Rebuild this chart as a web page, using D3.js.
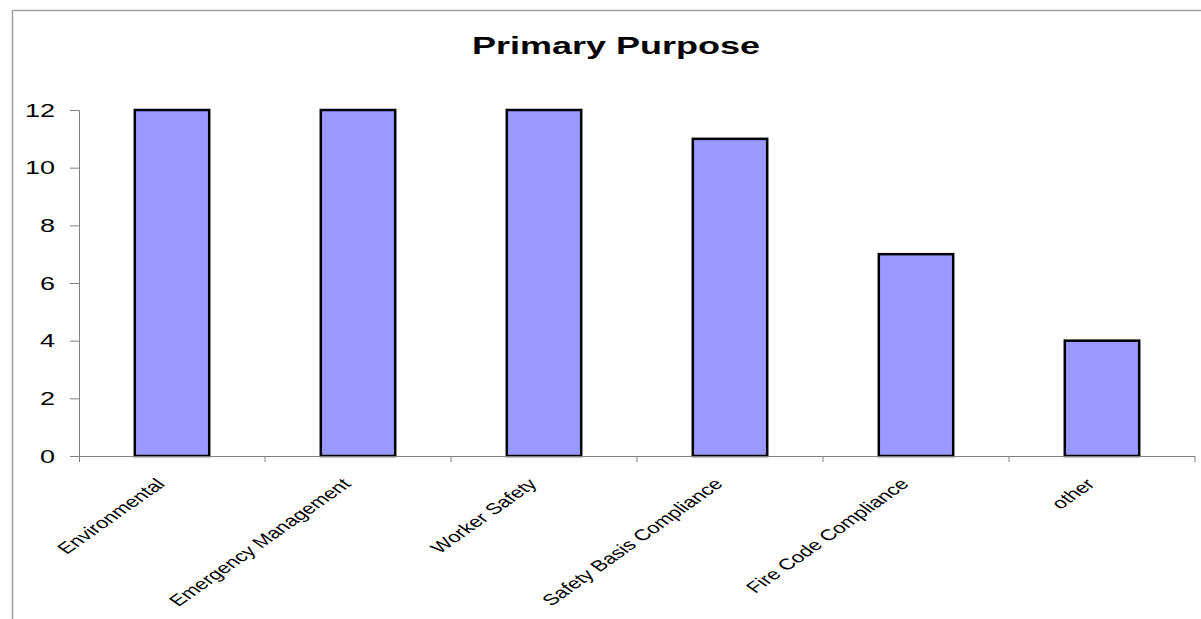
<!DOCTYPE html>
<html>
<head>
<meta charset="utf-8">
<script src="https://cdn.jsdelivr.net/npm/d3@7"></script>
<style>
  body { margin: 0; background: #fff; }
  text { font-family: "Liberation Sans", Arial, sans-serif; }
</style>
</head>
<body>
<svg id="chart" width="1201" height="619"></svg>
<script>
// chart data
var categories = ["Environmental", "Emergency Management", "Worker Safety",
                  "Safety Basis Compliance", "Fire Code Compliance", "other"];
var counts = [12, 12, 12, 11, 7, 4];
var yTicks = [0, 2, 4, 6, 8, 10, 12];

// the source image is stretched sideways, so text gets a horizontal scale
var stretch = 1.42;

var svg = d3.select('#chart');
var margin = {left: 79, right: 6, top: 110, bottom: 163};
var width = 1201 - margin.left - margin.right,
    height = 619 - margin.top - margin.bottom;

// outer frame (only top and left edges show)
svg.append('line').attr('x1', 12).attr('x2', 1201).attr('y1', 10.5).attr('y2', 10.5)
    .style('stroke', '#a0a0a0').style('stroke-width', 1.5);
svg.append('line').attr('x1', 12.5).attr('x2', 12.5).attr('y1', 10).attr('y2', 619)
    .style('stroke', '#a0a0a0').style('stroke-width', 1.5);

svg.append('text')
    .attr('transform', 'translate(616,54) scale(1.5,1)')
    .attr('text-anchor', 'middle')
    .style('font-size', '24px').style('font-weight', 'bold')
    .text('Primary Purpose');

var g = svg.append('g').attr('transform', 'translate(' + margin.left + ',' + margin.top + ')');

var x = d3.scaleBand()
    .range([0, width])
    .domain(categories);

var y = d3.scaleLinear()
    .range([height, 0])
    .domain([0, 12]);

var barW = x.bandwidth() * 0.4;

g.append('g').selectAll('rect')
    .data(categories)
    .enter().append('rect')
    .attr('x', function(d) { return x(d) + (x.bandwidth() - barW) / 2; })
    .attr('y', function(d, i) { return y(counts[i]); })
    .attr('width', barW)
    .attr('height', function(d, i) { return height - y(counts[i]); })
    .style('fill', '#9999ff')
    .style('stroke', '#000')
    .style('stroke-width', 2.5);

// y axis
var yAxis = g.append('g')
    .call(d3.axisLeft(y).tickValues(yTicks).tickSize(9));
yAxis.selectAll('path, line').style('stroke', '#808080');
yAxis.select('.domain').attr('d', 'M-9,0.5H0.5V' + height);
yAxis.selectAll('text')
    .attr('x', 0)
    .attr('transform', 'translate(-24,0) scale(' + stretch + ',1)')
    .style('font-size', '19px').style('fill', '#000');

// x axis: ticks sit between categories
var xAxis = g.append('g').attr('transform', 'translate(0,' + height + ')');
xAxis.append('line').attr('x1', 0).attr('x2', width).attr('y1', 0.5).attr('y2', 0.5)
    .style('stroke', '#808080');
xAxis.selectAll('.sep')
    .data(categories)
    .enter().append('line')
    .attr('x1', function(d) { return x(d) + x.bandwidth(); })
    .attr('x2', function(d) { return x(d) + x.bandwidth(); })
    .attr('y1', 0).attr('y2', 6)
    .style('stroke', '#808080');
xAxis.append('line').attr('x1', 0.5).attr('x2', 0.5).attr('y1', 0).attr('y2', 6)
    .style('stroke', '#808080');

xAxis.selectAll('.lbl')
    .data(categories)
    .enter().append('text')
    .attr('text-anchor', 'end')
    .attr('transform', function(d) {
        return 'translate(' + (x(d) + x.bandwidth() / 2 - 6) + ',29) scale(' + stretch + ',1) rotate(-45)';
    })
    .style('font-size', '15.5px')
    .style('fill', '#000')
    .text(function(d) { return d; });
</script>
</body>
</html>
